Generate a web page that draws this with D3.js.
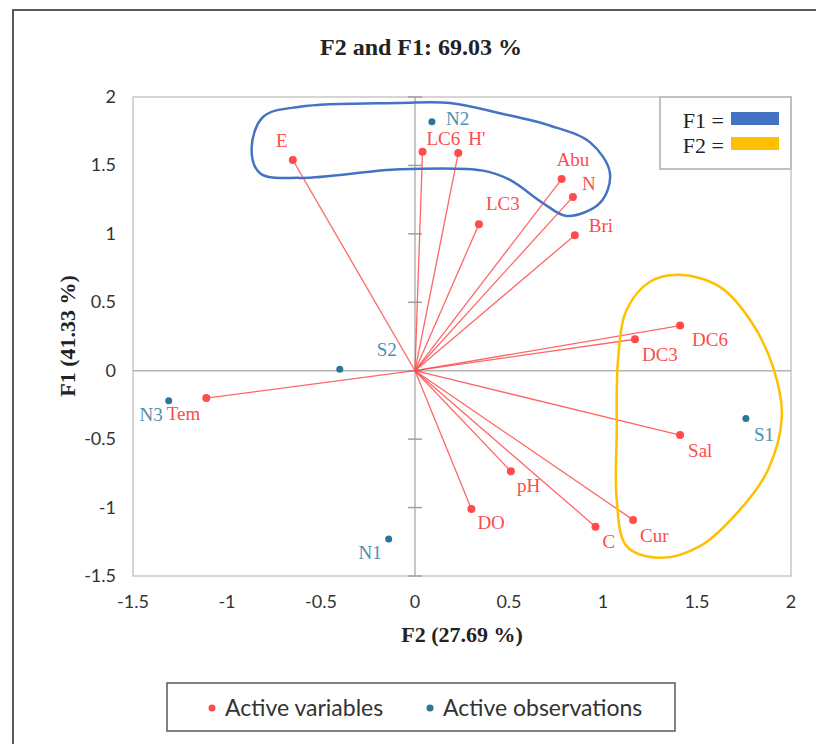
<!DOCTYPE html>
<html>
<head>
<meta charset="utf-8">
<script src="https://cdn.jsdelivr.net/npm/d3@7"></script>
<style>
  body { margin: 0; background: #fff; }
  svg { display: block; }
</style>
</head>
<body>
<div id="chart"></div>
<script>
// Variables (red) - coordinates on F2 (x) and F1 (y)
const varNames = ["E", "LC6", "H'", "Abu", "N", "LC3", "Bri", "DC6", "DC3", "Sal", "pH", "DO", "C", "Cur", "Tem"];
const varF2 = [-0.65, 0.04, 0.23, 0.78, 0.84, 0.34, 0.85, 1.41, 1.17, 1.41, 0.51, 0.30, 0.96, 1.16, -1.11];
const varF1 = [1.54, 1.60, 1.59, 1.40, 1.27, 1.07, 0.99, 0.33, 0.23, -0.47, -0.735, -1.01, -1.14, -1.09, -0.20];

// Observations (blue)
const obsNames = ["N2", "S2", "N3", "N1", "S1"];
const obsF2 = [0.09, -0.40, -1.31, -0.14, 1.76];
const obsF1 = [1.82, 0.01, -0.22, -1.23, -0.35];

// tick values
const ticks = [-1.5, -1, -0.5, 0, 0.5, 1, 1.5, 2];

// hand drawn group outlines (data coords)
const blueOutline = [[-0.869, 1.626], [-0.807, 1.856], [-0.612, 1.929], [-0.08, 1.956], [0.186, 1.956], [0.452, 1.881],
  [0.72, 1.79], [0.93, 1.67], [1.037, 1.443], [0.984, 1.226], [0.807, 1.131], [0.682, 1.224], [0.505, 1.394],
  [0.363, 1.462], [-0.08, 1.472], [-0.612, 1.409], [-0.824, 1.443]];
const yellowOutline = [[1.41, 0.701], [1.622, 0.613], [1.782, 0.372], [1.904, 0.029], [1.951, -0.336], [1.878, -0.723],
  [1.729, -1.015], [1.516, -1.282], [1.303, -1.367], [1.126, -1.282], [1.073, -0.942], [1.073, -0.453],
  [1.08, 0.08], [1.126, 0.445], [1.25, 0.65]];

// label placement (pixels relative to point)
const labelPos = {
  "E": [-11, -13, "middle"], "LC6": [4, -7, "start"], "H'": [10, -8, "start"], "Abu": [-5, -13, "start"],
  "N": [9, -7, "start"], "LC3": [7, -14, "start"], "Bri": [14, -3, "start"], "DC6": [12, 20, "start"],
  "DC3": [7, 22, "start"], "Sal": [8, 22, "start"], "pH": [6, 21, "start"], "DO": [6, 20, "start"],
  "C": [7, 21, "start"], "Cur": [7, 22, "start"], "Tem": [-6, 22, "end"],
  "N2": [14, 3, "start"], "S2": [37, -13, "start"], "N3": [-6, 20, "end"], "N1": [-7, 20, "end"], "S1": [8, 22, "start"]
};

const W = 816, H = 744;
const serif = "'Liberation Serif', 'Times New Roman', serif";
const sans = "Lato, 'Open Sans', sans-serif";
const red = "#ff4b4b", blue = "#2a7598", blueText = "#4f8db0";

const svg = d3.select("#chart").append("svg")
    .attr("width", W)
    .attr("height", H);

// outer frame (only top and left visible)
svg.append("path")
    .attr("d", `M13,${H} L13,10 L${W},10`)
    .attr("fill", "none")
    .attr("stroke", "#595959")
    .attr("stroke-width", 2);

const x = d3.scaleLinear().domain([-1.5, 2]).range([133, 791]);
const y = d3.scaleLinear().domain([-1.5, 2]).range([576, 97]);

// plot frame
svg.append("rect")
    .attr("x", x(-1.5))
    .attr("y", y(2))
    .attr("width", x(2) - x(-1.5))
    .attr("height", y(-1.5) - y(2))
    .attr("fill", "none")
    .attr("stroke", "#c8c8c8")
    .attr("stroke-width", 1.5);

// zero lines
svg.append("line")
    .attr("x1", x(-1.5)).attr("x2", x(2))
    .attr("y1", y(0)).attr("y2", y(0))
    .attr("stroke", "#b4b4b4").attr("stroke-width", 1.5);
svg.append("line")
    .attr("x1", x(0)).attr("x2", x(0))
    .attr("y1", y(-1.5)).attr("y2", y(2))
    .attr("stroke", "#b4b4b4").attr("stroke-width", 1.5);

// tick marks on vertical zero axis
svg.selectAll(".ytickmark")
    .data(ticks)
    .enter().append("line")
    .attr("x1", x(0) - 7).attr("x2", x(0) + 7)
    .attr("y1", d => y(d)).attr("y2", d => y(d))
    .attr("stroke", "#a0a0a0").attr("stroke-width", 1.5);

// tick labels
svg.selectAll(".ylab")
    .data(ticks)
    .enter().append("text")
    .attr("x", 116)
    .attr("y", d => y(d) + 6)
    .attr("text-anchor", "end")
    .attr("font-family", sans)
    .attr("font-size", "18px")
    .attr("fill", "#333")
    .text(d => d);

svg.selectAll(".xlab")
    .data(ticks)
    .enter().append("text")
    .attr("x", d => x(d))
    .attr("y", 608)
    .attr("text-anchor", "middle")
    .attr("font-family", sans)
    .attr("font-size", "18px")
    .attr("fill", "#333")
    .text(d => d);

// titles
svg.append("text")
    .attr("x", 421).attr("y", 55)
    .attr("text-anchor", "middle")
    .attr("font-family", serif)
    .attr("font-weight", "bold")
    .attr("font-size", "24px")
    .attr("fill", "#222")
    .text("F2 and F1: 69.03 %");

svg.append("text")
    .attr("x", 462).attr("y", 642)
    .attr("text-anchor", "middle")
    .attr("font-family", serif)
    .attr("font-weight", "bold")
    .attr("font-size", "22px")
    .attr("fill", "#222")
    .text("F2 (27.69 %)");

svg.append("text")
    .attr("transform", "translate(75,336) rotate(-90)")
    .attr("text-anchor", "middle")
    .attr("font-family", serif)
    .attr("font-weight", "bold")
    .attr("font-size", "22px")
    .attr("fill", "#222")
    .text("F1 (41.33 %)");

// variable vectors
const vars = varNames.map((n, i) => ({ name: n, x: varF2[i], y: varF1[i] }));
const obs = obsNames.map((n, i) => ({ name: n, x: obsF2[i], y: obsF1[i] }));

svg.selectAll(".vec")
    .data(vars)
    .enter().append("line")
    .attr("x1", x(0)).attr("y1", y(0))
    .attr("x2", d => x(d.x)).attr("y2", d => y(d.y))
    .attr("stroke", red)
    .attr("stroke-opacity", 0.85)
    .attr("stroke-width", 1.3);

// outlines
const outline = d3.line()
    .x(d => x(d[0]))
    .y(d => y(d[1]))
    .curve(d3.curveCatmullRomClosed.alpha(0.5));

svg.append("path")
    .attr("d", outline(blueOutline))
    .attr("fill", "none")
    .attr("stroke", "#4472c4")
    .attr("stroke-width", 2.5);

svg.append("path")
    .attr("d", outline(yellowOutline))
    .attr("fill", "none")
    .attr("stroke", "#ffc000")
    .attr("stroke-width", 2.5);

// points
svg.selectAll(".vpt")
    .data(vars)
    .enter().append("circle")
    .attr("cx", d => x(d.x)).attr("cy", d => y(d.y))
    .attr("r", 4)
    .attr("fill", red);

svg.selectAll(".opt")
    .data(obs)
    .enter().append("circle")
    .attr("cx", d => x(d.x)).attr("cy", d => y(d.y))
    .attr("r", 3.5)
    .attr("fill", blue);

// labels
function addLabels(data, color) {
    svg.selectAll(null)
        .data(data)
        .enter().append("text")
        .attr("x", d => x(d.x) + labelPos[d.name][0])
        .attr("y", d => y(d.y) + labelPos[d.name][1])
        .attr("text-anchor", d => labelPos[d.name][2])
        .attr("font-family", serif)
        .attr("font-size", "19px")
        .attr("fill", color)
        .text(d => d.name);
}
addLabels(vars, red);
addLabels(obs, blueText);

// F1 / F2 legend box
const lg = svg.append("g");
lg.append("rect")
    .attr("x", 660).attr("y", 97)
    .attr("width", 131).attr("height", 72)
    .attr("fill", "#fff")
    .attr("stroke", "#c0c0c0")
    .attr("stroke-width", 2);
const lgItems = [["F1 =", "#4472c4"], ["F2 =", "#ffc000"]];
lgItems.forEach((d, i) => {
    lg.append("text")
        .attr("x", 724).attr("y", 128 + i * 25)
        .attr("text-anchor", "end")
        .attr("font-family", serif)
        .attr("font-size", "22px")
        .attr("fill", "#222")
        .text(d[0]);
    lg.append("rect")
        .attr("x", 731).attr("y", 112 + i * 25)
        .attr("width", 48).attr("height", 13)
        .attr("fill", d[1]);
});

// bottom legend
svg.append("rect")
    .attr("x", 167).attr("y", 683)
    .attr("width", 508).attr("height", 48)
    .attr("fill", "#fff")
    .attr("stroke", "#595959")
    .attr("stroke-width", 1.5);
const bl = [["Active variables", red, 212], ["Active observations", blue, 430]];
bl.forEach(d => {
    svg.append("circle")
        .attr("cx", d[2]).attr("cy", 708)
        .attr("r", 3.5)
        .attr("fill", d[1]);
    svg.append("text")
        .attr("x", d[2] + 13).attr("y", 716)
        .attr("font-family", sans)
        .attr("font-size", "23px")
        .attr("fill", "#333")
        .text(d[0]);
});
</script>
</body>
</html>
